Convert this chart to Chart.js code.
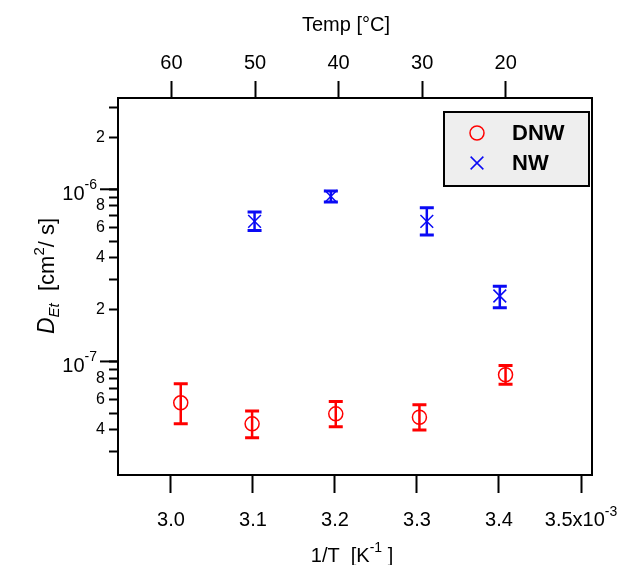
<!DOCTYPE html>
<html><head><meta charset="utf-8">
<script src="https://cdn.jsdelivr.net/npm/chart.js@4.4.1/dist/chart.umd.min.js"></script>
<style>html,body{margin:0;padding:0;background:#fff;}canvas{display:block;}</style>
</head><body>
<canvas id="c" width="632" height="565"></canvas>
<script>
// ---- data ----
const dnwInvT    = [3.012, 3.099, 3.201, 3.303, 3.408];          // 1/T  (x10^-3 K^-1)
const dnwD       = [5.75e-8, 4.34e-8, 4.96e-8, 4.74e-8, 8.37e-8]; // cm^2/s
const dnwErrLow  = [4.34e-8, 3.60e-8, 4.17e-8, 4.00e-8, 7.38e-8];
const dnwErrHigh = [7.41e-8, 5.16e-8, 5.85e-8, 5.60e-8, 9.48e-8];

const nwInvT     = [3.102, 3.195, 3.312, 3.401];
const nwD        = [6.51e-7, 9.10e-7, 6.51e-7, 2.40e-7];
const nwErrLow   = [5.77e-7, 8.43e-7, 5.42e-7, 2.05e-7];
const nwErrHigh  = [7.38e-7, 9.77e-7, 7.82e-7, 2.73e-7];

const bottomTicks = [3.0, 3.1, 3.2, 3.3, 3.4, 3.5];
const bottomTickLabels = ['3.0', '3.1', '3.2', '3.3', '3.4', '3.5x10'];
const topTicks = [60, 50, 40, 30, 20];               // Temp [°C]
const yDecades = [-8, -7, -6];
const yMantissas = [1, 2, 3, 4, 5, 6, 7, 8, 9];
const yLabeledMantissas = [2, 4, 6, 8];

const FONT = "'Liberation Sans', Arial, sans-serif";
const RED = '#ff0000', BLUE = '#0a0af5';
const TICK_FONT = 20;

function supText(ctx, parts, x, y, align) {
  let total = 0;
  parts.forEach(p => { ctx.font = (p.style || '') + ' ' + p.size + 'px ' + FONT; p.w = ctx.measureText(p.t).width; total += p.w; });
  let cx = align === 'center' ? x - total / 2 : (align === 'right' ? x - total : x);
  ctx.textAlign = 'left';
  ctx.textBaseline = 'alphabetic';
  parts.forEach(p => { ctx.font = (p.style || '') + ' ' + p.size + 'px ' + FONT; ctx.fillText(p.t, cx, y + (p.dy || 0)); cx += p.w; });
}

const decor = {
  id: 'decor',
  beforeDatasetsDraw(chart) {
    const ctx = chart.ctx, xs = chart.scales.x, ys = chart.scales.y;
    ctx.save();
    chart.data.datasets.forEach(ds => {
      ctx.strokeStyle = ds.borderColor;
      ds.data.forEach((pt, i) => {
        const px = xs.getPixelForValue(pt.x);
        const yl = ys.getPixelForValue(ds.errLow[i]);
        const yh = ys.getPixelForValue(ds.errHigh[i]);
        ctx.lineWidth = 2.5;
        ctx.beginPath(); ctx.moveTo(px, yl); ctx.lineTo(px, yh); ctx.stroke();
        ctx.lineWidth = 3;
        ctx.beginPath();
        ctx.moveTo(px - 7, yl); ctx.lineTo(px + 7, yl);
        ctx.moveTo(px - 7, yh); ctx.lineTo(px + 7, yh);
        ctx.stroke();
      });
    });
    ctx.restore();
  },
  afterDraw(chart) {
    const ctx = chart.ctx, a = chart.chartArea, xs = chart.scales.x, ys = chart.scales.y;
    ctx.save();
    // frame
    ctx.strokeStyle = '#000'; ctx.lineWidth = 2;
    ctx.strokeRect(a.left, a.top, a.right - a.left, a.bottom - a.top);
    // y major ticks and labels 10^n
    ctx.fillStyle = '#000';
    yDecades.forEach(e => {
      const v = Math.pow(10, e);
      if (v < ys.min || v > ys.max) return;
      const py = ys.getPixelForValue(v);
      ctx.lineWidth = 2;
      ctx.beginPath(); ctx.moveTo(a.left - 18, py); ctx.lineTo(a.left, py); ctx.stroke();
      supText(ctx, [{t: '10', size: 20}, {t: String(e), size: 14, dy: -11}], a.left - 21, py + 11, 'right');
    });
    // x last label with superscript, same baseline as the other tick labels
    const lastV = bottomTicks[bottomTicks.length - 1];
    const lx = xs.getPixelForValue(lastV);
    supText(ctx, [{t: bottomTickLabels[bottomTickLabels.length - 1], size: TICK_FONT}, {t: '-3', size: 14, dy: -10}], lx, 526, 'center');
    // top title
    supText(ctx, [{t: 'Temp [°C]', size: 20}], 346, 31, 'center');
    // bottom title
    supText(ctx, [{t: '1/T  [K', size: 20}, {t: '-1', size: 14, dy: -10}, {t: ' ]', size: 20}], 352, 562, 'center');
    // y title
    ctx.save();
    ctx.translate(54, 276);
    ctx.rotate(-Math.PI / 2);
    supText(ctx, [{t: 'D', size: 23, style: 'italic'}, {t: 'Et', size: 15, style: 'italic', dy: 5},
                  {t: '  [cm', size: 22}, {t: '2', size: 15, dy: -10}, {t: '/ s]', size: 22}], 0, 0, 'center');
    ctx.restore();
    // legend
    const lb = {x: 444, y: 112, w: 145, h: 74};
    ctx.fillStyle = '#eeeeee';
    ctx.fillRect(lb.x, lb.y, lb.w, lb.h);
    ctx.strokeStyle = '#000'; ctx.lineWidth = 2;
    ctx.strokeRect(lb.x, lb.y, lb.w, lb.h);
    chart.data.datasets.forEach((ds, i) => {
      const cy = lb.y + 21 + i * 30;
      ctx.strokeStyle = ds.borderColor; ctx.lineWidth = ds.pointBorderWidth;
      Chart.helpers.drawPoint(ctx, {pointStyle: ds.pointStyle, radius: ds.pointRadius, rotation: 0, borderWidth: ds.pointBorderWidth}, lb.x + 33, cy);
      ctx.fillStyle = '#000';
      ctx.font = 'bold 22px ' + FONT;
      ctx.textAlign = 'left'; ctx.textBaseline = 'middle';
      ctx.fillText(ds.label, lb.x + 68, cy + 1);
    });
    ctx.restore();
  }
};

const gridOpts = (len) => ({drawOnChartArea: false, drawTicks: true, tickLength: len, tickWidth: 2, tickColor: '#000', color: '#000'});

new Chart(document.getElementById('c'), {
  type: 'scatter',
  data: {
    datasets: [
      {label: 'DNW', data: dnwInvT.map((x, i) => ({x, y: dnwD[i]})), errLow: dnwErrLow, errHigh: dnwErrHigh,
       pointStyle: 'circle', pointRadius: 7, pointBorderWidth: 1.5, borderColor: RED, backgroundColor: 'rgba(0,0,0,0)',
       xAxisID: 'x', yAxisID: 'y'},
      {label: 'NW', data: nwInvT.map((x, i) => ({x, y: nwD[i]})), errLow: nwErrLow, errHigh: nwErrHigh,
       pointStyle: 'crossRot', pointRadius: 9, pointBorderWidth: 1.5, borderColor: BLUE, backgroundColor: BLUE,
       xAxisID: 'x', yAxisID: 'y'}
    ]
  },
  options: {
    responsive: false, animation: false,
    layout: {padding: {left: 0, top: 0, right: 40, bottom: 0}},
    plugins: {legend: {display: false}, tooltip: {enabled: false}},
    scales: {
      x: {
        type: 'linear', position: 'bottom', min: 2.9355, max: 3.5134,
        afterBuildTicks: s => { s.ticks = bottomTicks.map(v => ({value: v})); },
        afterFit: s => { s.height = 90; },
        ticks: {autoSkip: false, maxRotation: 0, color: '#000', font: {family: FONT, size: TICK_FONT}, padding: 15,
                callback: (v) => { const i = bottomTicks.indexOf(v); return (i < 0 || i === bottomTicks.length - 1) ? '' : bottomTickLabels[i]; }},
        grid: gridOpts(18), border: {display: false}
      },
      x2: {
        type: 'linear', position: 'top', reverse: true, min: 9.67, max: 66.4,
        afterBuildTicks: s => { s.ticks = topTicks.map(v => ({value: v})); },
        afterFit: s => { s.height = 98; },
        ticks: {autoSkip: false, maxRotation: 0, color: '#000', font: {family: FONT, size: TICK_FONT}, padding: 6,
                callback: v => String(v)},
        grid: gridOpts(17), border: {display: false}
      },
      y: {
        type: 'logarithmic', position: 'left', min: 2.19e-8, max: 3.39e-6,
        afterBuildTicks: s => {
          const t = [];
          yDecades.forEach(e => yMantissas.forEach(m => { const v = m * Math.pow(10, e); if (v >= s.min && v <= s.max) t.push({value: v}); }));
          s.ticks = t;
        },
        afterFit: s => { s.width = 118; },
        ticks: {autoSkip: false, color: '#000', font: {family: FONT, size: 16}, padding: 4,
                callback: v => { const e = Math.floor(Math.log10(v) + 1e-9); const m = Math.round(v / Math.pow(10, e));
                                 return yLabeledMantissas.includes(m) ? String(m) : ''; }},
        grid: gridOpts(9), border: {display: false}
      }
    }
  },
  plugins: [decor]
});
</script>
</body></html>
